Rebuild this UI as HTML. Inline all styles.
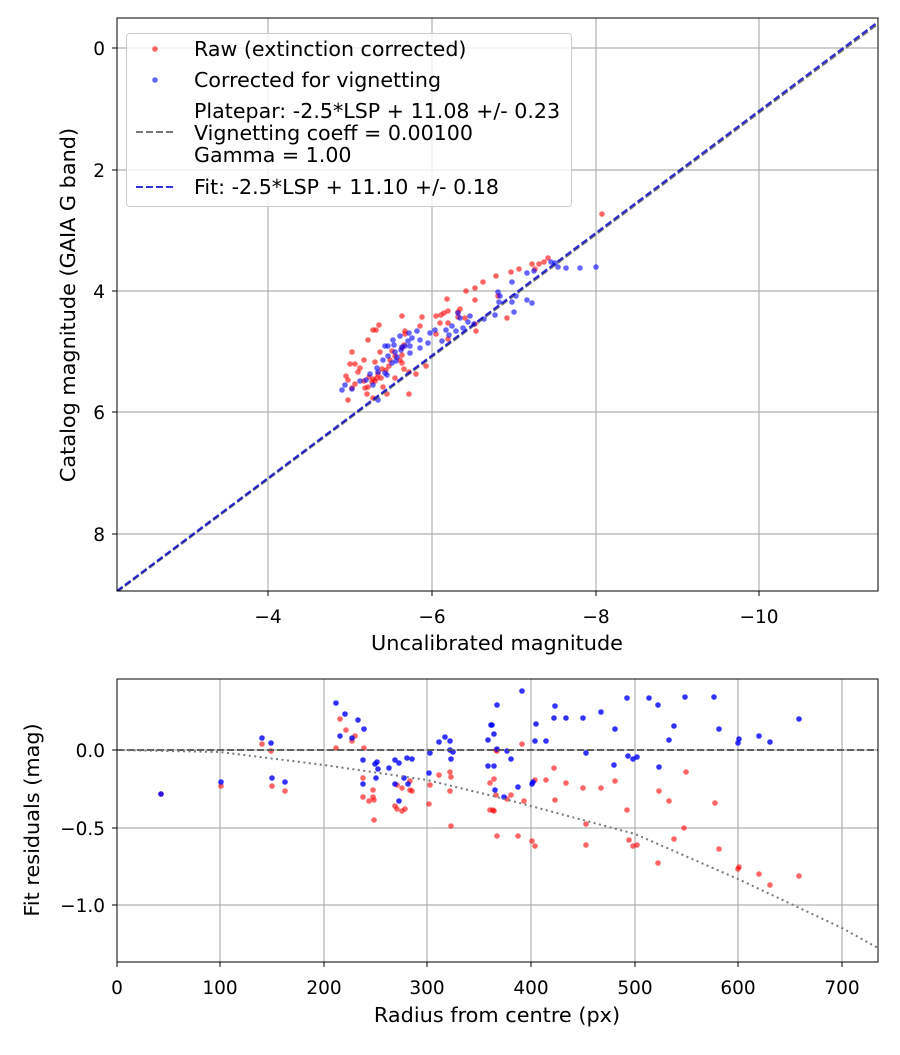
<!DOCTYPE html>
<html><head><meta charset="utf-8"><style>
body{margin:0;background:#fff}
svg text{font-family:"DejaVu Sans","Liberation Sans",sans-serif;fill:#000}
</style></head><body>
<svg id="s" width="900" height="1050" xmlns="http://www.w3.org/2000/svg">
<rect width="900" height="1050" fill="#fff"/>
<g stroke="#b0b0b0" stroke-width="1.2">
<line x1="268" y1="18" x2="268" y2="591"/><line x1="432" y1="18" x2="432" y2="591"/><line x1="596" y1="18" x2="596" y2="591"/><line x1="759" y1="18" x2="759" y2="591"/>
<line x1="117" y1="48" x2="878" y2="48"/><line x1="117" y1="170" x2="878" y2="170"/><line x1="117" y1="291" x2="878" y2="291"/><line x1="117" y1="412" x2="878" y2="412"/><line x1="117" y1="534" x2="878" y2="534"/>
<line x1="220" y1="679" x2="220" y2="962"/><line x1="324" y1="679" x2="324" y2="962"/><line x1="427" y1="679" x2="427" y2="962"/><line x1="531" y1="679" x2="531" y2="962"/><line x1="635" y1="679" x2="635" y2="962"/><line x1="738" y1="679" x2="738" y2="962"/><line x1="842" y1="679" x2="842" y2="962"/>
<line x1="117" y1="750" x2="878" y2="750"/><line x1="117" y1="828" x2="878" y2="828"/><line x1="117" y1="905" x2="878" y2="905"/>
</g>
<g id="top"></g>
<g id="bot"></g>
<svg x="117" y="18" width="761" height="573" overflow="hidden"><g transform="translate(-117,-18)">
<line x1="117" y1="592" x2="878" y2="24" stroke="#555" stroke-opacity="0.8" stroke-width="2" stroke-dasharray="7,3"/>
<line x1="117" y1="591" x2="878" y2="22" stroke="#0000d0" stroke-opacity="0.8" stroke-width="2.2" stroke-dasharray="7,3"/>
</g></svg>
<line x1="117" y1="750" x2="878" y2="750" stroke="#555" stroke-width="2" stroke-dasharray="7,3" opacity="0.9"/>
<polyline points="117,750 220,752 324,765 427,780 497,797 527,805 635,834 738,879 842,928 878,948" fill="none" stroke="#777" stroke-width="2" stroke-dasharray="2,3.5"/>
<g fill="none" stroke="#000" stroke-width="1">
<rect x="117" y="18" width="761" height="573"/><rect x="117" y="679" width="761" height="283"/>
</g>
<g stroke="#000">
<line x1="268" y1="591" x2="268" y2="596"/><line x1="432" y1="591" x2="432" y2="596"/><line x1="596" y1="591" x2="596" y2="596"/><line x1="759" y1="591" x2="759" y2="596"/>
<line x1="112" y1="48" x2="117" y2="48"/><line x1="112" y1="170" x2="117" y2="170"/><line x1="112" y1="291" x2="117" y2="291"/><line x1="112" y1="412" x2="117" y2="412"/><line x1="112" y1="534" x2="117" y2="534"/>
<line x1="117" y1="962" x2="117" y2="967"/><line x1="220" y1="962" x2="220" y2="967"/><line x1="324" y1="962" x2="324" y2="967"/><line x1="427" y1="962" x2="427" y2="967"/><line x1="531" y1="962" x2="531" y2="967"/><line x1="635" y1="962" x2="635" y2="967"/><line x1="738" y1="962" x2="738" y2="967"/><line x1="842" y1="962" x2="842" y2="967"/>
<line x1="112" y1="750" x2="117" y2="750"/><line x1="112" y1="828" x2="117" y2="828"/><line x1="112" y1="905" x2="117" y2="905"/>
</g>
<g font-size="18.5" text-anchor="middle">
<text x="268" y="623">−4</text><text x="432" y="623">−6</text><text x="596" y="623">−8</text><text x="759" y="623">−10</text>
<text x="117" y="994">0</text><text x="220" y="994">100</text><text x="324" y="994">200</text><text x="427" y="994">300</text><text x="531" y="994">400</text><text x="635" y="994">500</text><text x="738" y="994">600</text><text x="842" y="994">700</text>
</g>
<g font-size="18.5" text-anchor="end">
<text x="105" y="55">0</text><text x="105" y="177">2</text><text x="105" y="298">4</text><text x="105" y="419">6</text><text x="105" y="541">8</text>
<text x="105" y="757">0.0</text><text x="105" y="835">−0.5</text><text x="105" y="912">−1.0</text>
</g>
<g font-size="20.8" text-anchor="middle">
<text x="497" y="650">Uncalibrated magnitude</text>
<text x="497" y="1022">Radius from centre (px)</text>
<text transform="translate(75,305) rotate(-90)">Catalog magnitude (GAIA G band)</text>
<text transform="translate(39,820) rotate(-90)">Fit residuals (mag)</text>
</g>
<rect x="126.5" y="33.5" width="445" height="173" rx="3" fill="#fff" fill-opacity="0.8" stroke="#ccc"/>
<circle cx="155" cy="49" r="2.8" fill="#f00" fill-opacity="0.6"/>
<circle cx="155" cy="80" r="2.8" fill="#00f" fill-opacity="0.6"/>
<line x1="136" y1="132" x2="176" y2="132" stroke="#555" stroke-opacity="0.8" stroke-width="2" stroke-dasharray="7,3"/>
<line x1="136" y1="187" x2="176" y2="187" stroke="#0000d0" stroke-opacity="0.8" stroke-width="2" stroke-dasharray="7,3"/>
<g font-size="20.6">
<text x="194" y="56">Raw (extinction corrected)</text>
<text x="194" y="87">Corrected for vignetting</text>
<text x="194" y="118">Platepar: -2.5*LSP + 11.08 +/- 0.23</text>
<text x="194" y="140">Vignetting coeff = 0.00100</text>
<text x="194" y="162">Gamma = 1.00</text>
<text x="194" y="194">Fit: -2.5*LSP + 11.10 +/- 0.18</text>
</g>
</svg>
<script>
var NS="http://www.w3.org/2000/svg";
function dots(id,pts,col,op){var g=document.getElementById(id);for(var i=0;i<pts.length;i+=2){var c=document.createElementNS(NS,"circle");c.setAttribute("cx",pts[i]);c.setAttribute("cy",pts[i+1]);c.setAttribute("r",2.8);c.setAttribute("fill",col);c.setAttribute("fill-opacity",op);g.appendChild(c);}}
var tr=[602,214,548,258,544,262,539,264,532,264,535,269,519,269,511,272,496,276,483,282,475,288,466,291,447,299,498,296,475,300,460,309,458,312,448,311,436,316,422,317,440,323,448,323,458,317,465,318,475,324,476,331,402,316,448,339,436,334,420,326,405,331,368,340,402,348,386,370,379,325,402,355,400,360,389,366,382,369,375,362,378,374,377,378,364,360,369,377,381,378,404,369,404,345,387,394,373,379,367,394,372,382,368,387,373,398,375,381,364,381,409,394,441,315,507,318,383,387,395,378,405,334,392,351,395,356,402,363,409,372,416,374,426,366,444,313,373,330,376,330,346,376,350,364,348,380,352,352,355,364,358,372,355,384,352,388,348,400,360,368,365,388,380,352,390,360];
var tb=[551,262,555,263,558,267,566,268,580,268,596,267,534,271,527,273,512,282,498,292,500,296,516,296,499,302,512,302,532,303,527,300,514,312,495,315,484,319,470,316,474,324,458,313,460,318,468,322,463,328,456,331,449,335,442,341,430,333,417,331,409,333,408,341,410,346,402,347,395,352,397,357,410,353,420,348,428,343,435,330,446,330,452,326,385,346,388,356,392,363,377,368,370,374,360,381,387,375,373,385,378,372,385,373,396,361,401,350,393,340,388,346,352,389,394,345,405,346,378,400,345,385,342,390,400,336,412,338,420,340,366,380,383,360];
var bb=[161,794,221,782,262,738,271,743,272,778,285,782,336,703,345,714,340,736,352,738,358,720,364,729,363,760,377,762,376,778,375,764,378,769,363,784,389,768,395,760,407,758,412,759,399,763,395,784,404,778,408,784,399,801,429,773,430,753,439,742,445,737,450,741,450,750,453,752,451,759,488,740,491,725,494,734,488,766,494,766,495,790,522,691,497,705,492,725,497,749,507,751,511,759,504,797,518,787,532,784,533,782,535,741,536,724,546,741,554,718,555,706,566,718,583,718,601,712,615,729,614,765,586,753,627,698,628,756,633,759,637,757,649,698,658,705,659,767,669,740,674,726,685,697,714,697,719,729,738,743,739,739,759,736,770,742,799,719];
var br=[161,794,221,786,262,744,271,751,272,786,285,791,340,719,346,730,336,748,355,736,352,741,364,748,363,778,373,790,363,797,373,797,374,800,374,820,369,801,395,806,410,781,410,790,397,785,402,788,412,791,397,809,402,811,405,809,430,785,429,804,439,775,450,772,451,777,450,791,451,826,490,783,494,779,496,795,490,810,493,810,497,836,496,750,522,744,497,751,494,811,507,799,511,795,524,801,518,836,535,846,532,841,535,780,546,780,554,768,555,800,566,783,583,788,601,788,615,781,627,810,586,824,586,845,629,840,633,846,637,845,659,791,658,863,669,801,674,839,684,828,686,772,715,803,719,849,738,869,739,867,759,874,770,885,799,876];
dots("top",tr,"#ff0000",0.6);dots("top",tb,"#0000ff",0.6);
dots("bot",br,"#ff0000",0.6);dots("bot",bb,"#0000ff",0.8);
</script>
</body></html>
